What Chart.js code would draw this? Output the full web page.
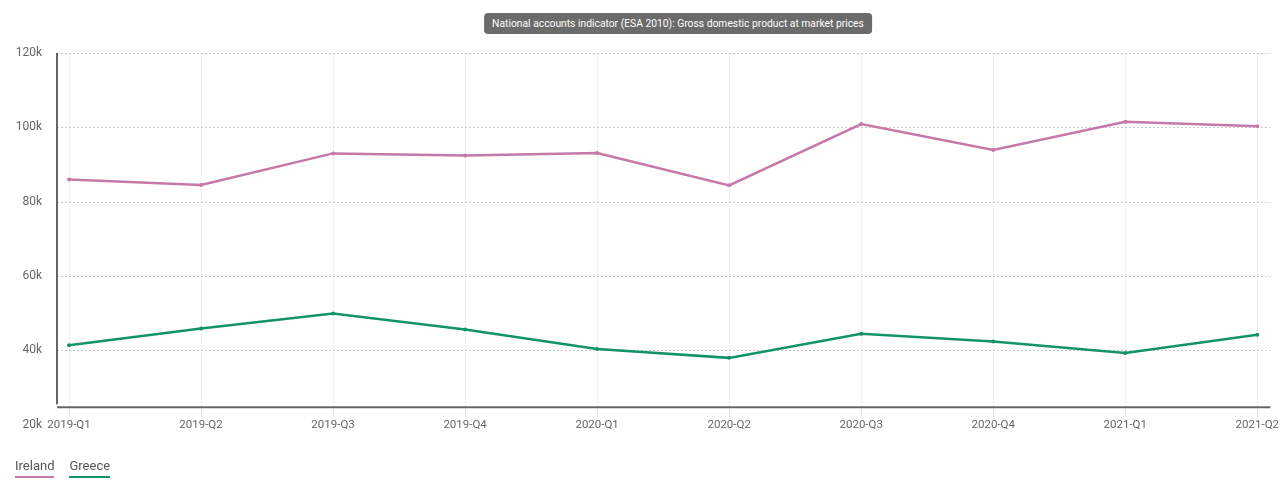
<!DOCTYPE html>
<html>
<head>
<meta charset="utf-8">
<script src="https://cdn.jsdelivr.net/npm/chart.js@4.4.1/dist/chart.umd.min.js"></script>
<style>
    body { margin: 0; background: #fff; font-family: Roboto, sans-serif; }
    .wrap { position: relative; width: 1280px; height: 498px; }
    .title {
        position: absolute; top: 13px; left: 678px; transform: translateX(-50%);
        height: 21px; padding: 0 8px;
        background: #6b6b6b; color: #fff; border-radius: 4px;
        font-size: 10.3px; line-height: 21px; white-space: nowrap;
    }
    .legend { position: absolute; left: 15px; top: 458px; font-size: 13px; color: #555; }
    .legend span { display: inline-block; margin-right: 15px; padding-bottom: 3px; border-bottom: 2px solid; }
</style>
</head>
<body>
<div class="wrap">
    <canvas id="gdpChart" width="1280" height="498"></canvas>
    <div class="title">National accounts indicator (ESA 2010): Gross domestic product at market prices</div>
    <div class="legend" id="legend"></div>
</div>
<script>
// Data
const quarters = ['2019-Q1', '2019-Q2', '2019-Q3', '2019-Q4', '2020-Q1', '2020-Q2', '2020-Q3', '2020-Q4', '2021-Q1', '2021-Q2'];
const ireland = [86000, 84500, 93000, 92400, 93100, 84400, 100900, 93900, 101500, 100300];
const greece = [41400, 45900, 49900, 45600, 40400, 38000, 44500, 42400, 39300, 44200];
const yTicks = [20000, 40000, 60000, 80000, 100000, 120000];

const IRELAND_COLOR = '#c678a8';
const GREECE_COLOR = '#13936c';

// Axis lines and horizontal grid drawn across the full plot frame
const framePlugin = {
    id: 'frame',
    beforeDatasetsDraw(chart) {
        const { ctx, chartArea, scales } = chart;
        const left = chartArea.left - 12;
        const right = chartArea.right + 13;
        ctx.save();
        ctx.strokeStyle = '#c8c8c8';
        ctx.lineWidth = 1;
        ctx.setLineDash([2, 2]);
        yTicks.forEach(v => {
            const y = Math.round(scales.y.getPixelForValue(v)) + 0.5;
            if (y > chartArea.bottom) return;
            ctx.beginPath();
            ctx.moveTo(left, y);
            ctx.lineTo(right, y);
            ctx.stroke();
        });
        ctx.setLineDash([]);
        ctx.strokeStyle = '#666';
        ctx.lineWidth = 2;
        ctx.beginPath();
        ctx.moveTo(left, chartArea.top);
        ctx.lineTo(left, chartArea.bottom - 2);
        ctx.stroke();
        ctx.beginPath();
        ctx.moveTo(left, chartArea.bottom + 1);
        ctx.lineTo(right, chartArea.bottom + 1);
        ctx.stroke();
        ctx.restore();
    }
};

const initChart = () => {
    const ctx = document.getElementById('gdpChart');
    const chart = new Chart(ctx, {
        type: 'line',
        data: {
            labels: quarters,
            datasets: [
                { label: 'Ireland', data: ireland, borderColor: IRELAND_COLOR, backgroundColor: IRELAND_COLOR },
                { label: 'Greece', data: greece, borderColor: GREECE_COLOR, backgroundColor: GREECE_COLOR }
            ]
        },
        options: {
            responsive: false,
            animation: false,
            elements: {
                line: { borderWidth: 2.5, tension: 0 },
                point: { radius: 2, borderWidth: 0 }
            },
            layout: { padding: { left: 16, top: 53, bottom: 65, right: 20 } },
            scales: {
                x: {
                    offset: false,
                    grid: { color: '#e4e4e4', drawTicks: true, tickLength: 11 },
                    border: { display: false, dash: [2, 2] },
                    ticks: { color: '#666', padding: 1, maxRotation: 0, autoSkip: false, font: { family: 'Roboto', size: 11.5 } }
                },
                y: {
                    min: 25000,
                    max: 120000,
                    afterBuildTicks: axis => { axis.ticks = yTicks.map(v => ({ value: v })); },
                    afterFit: axis => { axis.width = 53; },
                    grid: { display: false, drawTicks: false },
                    border: { display: false },
                    ticks: {
                        color: '#666', padding: 27,
                        font: { family: 'Roboto', size: 12 },
                        callback: v => (v / 1000) + 'k'
                    }
                }
            },
            plugins: {
                legend: { display: false },
                tooltip: { enabled: false }
            }
        },
        plugins: [framePlugin]
    });

    const legend = document.getElementById('legend');
    chart.data.datasets.forEach(ds => {
        const item = document.createElement('span');
        item.textContent = ds.label;
        item.style.borderColor = ds.borderColor;
        legend.appendChild(item);
    });
};

initChart();
</script>
</body>
</html>
